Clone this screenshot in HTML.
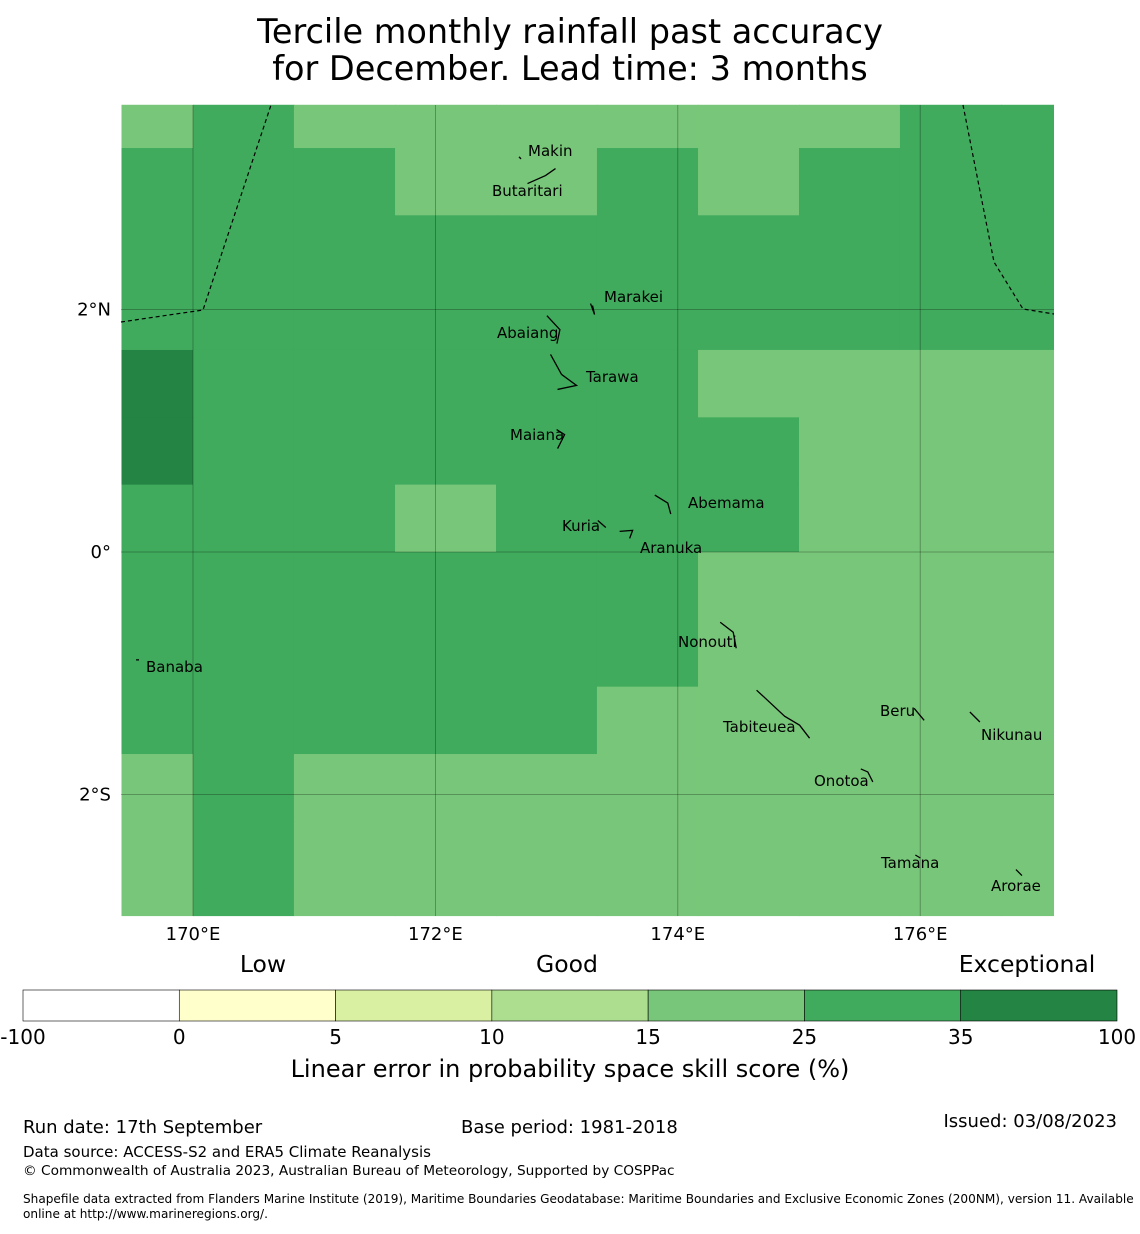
<!DOCTYPE html>
<html><head><meta charset="utf-8"><style>
body{margin:0;background:#fff;width:1140px;height:1230px;overflow:hidden;font-family:"DejaVu Sans","Liberation Sans",sans-serif;}
svg text{font-family:"DejaVu Sans","Liberation Sans",sans-serif;}
</style></head><body>
<svg id="chart" width="1140" height="1230" xmlns="http://www.w3.org/2000/svg">
<text x="570" y="43" font-size="33.5" text-anchor="middle">Tercile monthly rainfall past accuracy</text>
<text x="570" y="80" font-size="33.5" text-anchor="middle">for December. Lead time: 3 months</text>
<g id="cells"></g>
<g id="grid"></g>
<g id="eez" fill="none" stroke="#000" stroke-width="1.2" stroke-dasharray="4,3">
<polyline points="121,322 203,310 271,105"/>
<polyline points="963,105 994,262 1023,309 1054,314"/>
</g>
<g id="islands" fill="none" stroke="#000" stroke-width="1.3"></g>
<g id="labels" font-size="15"></g>
<g id="axes" font-size="18"></g>
<text x="263" y="972" font-size="23.5" text-anchor="middle">Low</text>
<text x="567" y="972" font-size="23.5" text-anchor="middle">Good</text>
<text x="1027" y="972" font-size="23.5" text-anchor="middle">Exceptional</text>
<g id="cbar"></g>
<text x="570" y="1077" font-size="24" text-anchor="middle">Linear error in probability space skill score (%)</text>
<text x="23" y="1133" font-size="18">Run date: 17th September</text>
<text x="461" y="1133" font-size="18">Base period: 1981-2018</text>
<text x="1117" y="1127" font-size="18" text-anchor="end">Issued: 03/08/2023</text>
<text x="23" y="1157" font-size="15">Data source: ACCESS-S2 and ERA5 Climate Reanalysis</text>
<text x="23" y="1175" font-size="13.7">© Commonwealth of Australia 2023, Australian Bureau of Meteorology, Supported by COSPPac</text>
<text x="23" y="1203" font-size="12.1">Shapefile data extracted from Flanders Marine Institute (2019), Maritime Boundaries Geodatabase: Maritime Boundaries and Exclusive Economic Zones (200NM), version 11. Available</text>
<text x="23" y="1218" font-size="12.1">online at http://www.marineregions.org/.</text>
</svg>
<script>
const colEdges=[169.41,170.0,170.833,171.667,172.5,173.333,174.167,175.0,175.833,176.667,177.1];
const rowEdges=[3.69,3.333,2.778,2.222,1.667,1.111,0.556,0.0,-0.556,-1.111,-1.667,-2.222,-2.778,-3.0];
const skillRows=[
[20,30,20,20,20,20,20,20,30,30],
[30,30,30,20,20,30,20,30,30,30],
[30,30,30,30,30,30,30,30,30,30],
[30,30,30,30,30,30,30,30,30,30],
[40,30,30,30,30,30,20,20,20,20],
[40,30,30,30,30,30,30,20,20,20],
[30,30,30,20,30,30,30,20,20,20],
[30,30,30,30,30,30,20,20,20,20],
[30,30,30,30,30,30,20,20,20,20],
[30,30,30,30,30,20,20,20,20,20],
[20,30,20,20,20,20,20,20,20,20],
[20,30,20,20,20,20,20,20,20,20],
[20,30,20,20,20,20,20,20,20,20]];
const cbBounds=[-100,0,5,10,15,25,35,100];
const cbColors=["#ffffff","#ffffcc","#d9f0a3","#addd8e","#78c679","#41ab5d","#238443"];
const lonTicks=[170,172,174,176];
const latTicks=[2,0,-2];
const latTickLabels=["2°N","0°","2°S"];
const islandNames=["Makin","Butaritari","Marakei","Abaiang","Tarawa","Maiana","Abemama","Kuria","Aranuka","Nonouti","Banaba","Beru","Nikunau","Tabiteuea","Onotoa","Tamana","Arorae"];
const islandLon=[172.69,172.76,173.28,172.92,172.95,173.00,173.81,173.34,173.52,174.35,169.53,175.95,176.41,174.65,175.51,175.96,176.79];
const islandLat=[3.26,3.04,2.05,1.95,1.63,1.01,0.47,0.26,0.17,-0.58,-0.89,-1.29,-1.32,-1.14,-1.79,-2.50,-2.62];
const sx=l=>193+(l-170)*121.2, sy=a=>552-a*121.2;
const NS="http://www.w3.org/2000/svg";
function mk(t,p,a){const e=document.createElementNS(NS,t);for(const k in a)e.setAttribute(k,a[k]);p.appendChild(e);return e;}
function col(v){for(let i=0;i<cbColors.length;i++)if(v<cbBounds[i+1])return cbColors[i];return cbColors[6];}
const cells=document.getElementById('cells');
skillRows.forEach((row,r)=>row.forEach((v,c)=>{
 const x0=sx(colEdges[c]),x1=sx(colEdges[c+1]),y0=sy(rowEdges[r]),y1=sy(rowEdges[r+1]);
 const e=mk('rect',cells,{x:x0,y:y0,width:x1-x0+0.5,height:y1-y0+0.5,fill:col(v)});
 
 
}));
const g=document.getElementById('grid'),ax=document.getElementById('axes');
lonTicks.forEach(l=>{const x=sx(l);
 const e=mk('line',g,{x1:x,x2:x,y1:105,y2:916,stroke:'rgba(0,0,0,0.35)','stroke-width':0.8});
 
 const t=mk('text',ax,{x:x,y:940,'text-anchor':'middle'});t.textContent=l+'°E';
 });
latTicks.forEach((a,i)=>{const y=sy(a);
 const e=mk('line',g,{x1:121,x2:1054,y1:y,y2:y,stroke:'rgba(0,0,0,0.35)','stroke-width':0.8});
 
 const t=mk('text',ax,{x:111,y:y+6,'text-anchor':'end'});t.textContent=latTickLabels[i];
 });
const isl=document.getElementById('islands'),lab=document.getElementById('labels');
const shapes=[[[0,0],[2,2]],[[0,0],[18,-8],[28,-15]],[[0,0],[4,11],[2,2]],[[0,0],[13,14],[10,28]],[[0,0],[11,20],[26,31],[7,35]],[[0,0],[8,5],[1,19]],[[0,0],[13,8],[16,19]],[[0,0],[8,7]],[[0,0],[13,-1],[10,7]],[[0,0],[13,10],[16,26]],[[0,0],[3,0]],[[0,0],[10,12]],[[0,0],[10,10]],[[0,0],[13,12],[28,26],[43,35],[53,48]],[[0,0],[7,3],[12,13]],[[0,0],[5,3]],[[0,0],[6,6]]];
const lx=[528,492,604,497,586,510,688,562,640,678,146,880,981,723,814,881,991];
const ly=[156,196,302,338,382,440,508,531,553,647,672,716,740,732,786,868,891];
islandNames.forEach((n,i)=>{
 const bx=sx(islandLon[i]),by=sy(islandLat[i]);
 const p=mk('polyline',isl,{points:shapes[i].map(q=>(bx+q[0])+','+(by+q[1])).join(' ')});
 
 const t=mk('text',lab,{x:lx[i],y:ly[i]});t.textContent=n;
 
});
const cb=document.getElementById('cbar');const w=(1117-23)/7;
cbColors.forEach((c,i)=>{const e=mk('rect',cb,{x:23+i*w,y:990,width:w,height:31,fill:c,stroke:'#000','stroke-width':0.6});
 });
cbBounds.forEach((b,i)=>{const t=mk('text',cb,{x:23+i*w,y:1044,'font-size':20,'text-anchor':'middle'});t.textContent=b;
 });
</script>
</body></html>
